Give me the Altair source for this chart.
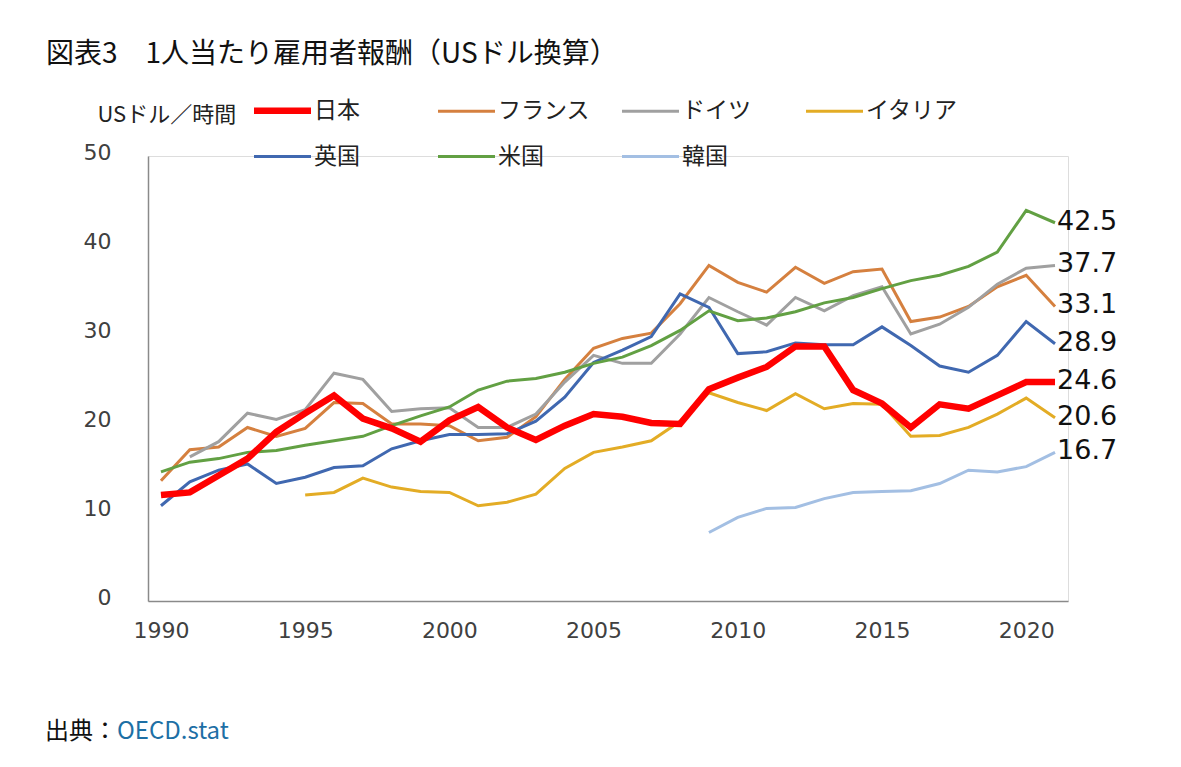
import altair as alt
import pandas as pd

# ---- data (USドル／時間) ----
countries = ["日本", "フランス", "ドイツ", "イタリア", "英国", "米国", "韓国"]
colors = ["#FF0000", "#D5803F", "#A0A0A0", "#E3AC25", "#4068B0", "#62A043", "#A3BFE3"]
start_years = [1990, 1990, 1991, 1995, 1990, 1990, 2009]

japan = [11.9, 12.2, 14.1, 16.0, 19.0, 21.1, 23.1, 20.5, 19.4, 17.9, 20.3, 21.8, 19.5, 18.1,
         19.7, 21.0, 20.7, 20.0, 19.9, 23.8, 25.1, 26.3, 28.6, 28.6, 23.7, 22.2, 19.5, 22.1,
         21.6, 23.1, 24.6, 24.6]
france = [13.5, 17.0, 17.3, 19.5, 18.5, 19.4, 22.3, 22.2, 19.9, 19.9, 19.7, 18.0, 18.4, 20.7,
          24.9, 28.4, 29.5, 30.1, 33.4, 37.7, 35.8, 34.7, 37.5, 35.7, 37.0, 37.3, 31.4, 31.9,
          33.1, 35.3, 36.6, 33.1]
germany = [16.2, 17.9, 21.1, 20.4, 21.5, 25.6, 24.9, 21.3, 21.6, 21.7, 19.5, 19.5, 21.0,
           24.6, 27.6, 26.7, 26.7, 30.0, 34.1, 32.5, 31.0, 34.1, 32.6, 34.3, 35.3, 30.0, 31.1,
           33.0, 35.6, 37.4, 37.7]
italy = [11.9, 12.2, 13.8, 12.8, 12.3, 12.2, 10.7, 11.1, 12.0, 14.9, 16.7, 17.3, 18.0, 20.2,
         23.4, 22.3, 21.4, 23.3, 21.6, 22.2, 22.1, 18.5, 18.6, 19.5, 21.0, 22.8, 20.6]
uk = [10.7, 13.4, 14.7, 15.4, 13.2, 13.9, 15.0, 15.2, 17.1, 18.0, 18.7, 18.7, 18.8, 20.2,
      22.9, 26.8, 28.2, 29.7, 34.5, 33.0, 27.8, 28.0, 29.0, 28.8, 28.8, 30.8, 28.7, 26.4,
      25.7, 27.6, 31.4, 28.9]
us = [14.5, 15.6, 16.0, 16.7, 16.9, 17.5, 18.0, 18.5, 19.7, 20.8, 21.8, 23.7, 24.7, 25.0,
      25.7, 26.7, 27.4, 28.7, 30.4, 32.6, 31.5, 31.8, 32.5, 33.5, 34.1, 35.1, 36.0, 36.6,
      37.6, 39.2, 43.9, 42.5]
korea = [7.7, 9.4, 10.4, 10.5, 11.5, 12.2, 12.3, 12.4, 13.2, 14.7, 14.5, 15.1, 16.7]

series = [japan, france, germany, italy, uk, us, korea]

x_ticks = [1990, 1995, 2000, 2005, 2010, 2015, 2020]
y_ticks = [0, 10, 20, 30, 40, 50]

title_text = "図表3\u30001人当たり雇用者報酬（USドル換算）"
source_label = "出典："
source_link = "OECD.stat"
unit_label = "USドル／時間"

# ---- build tables ----
rows = []
for name, start, vals in zip(countries, start_years, series):
    for i, v in enumerate(vals):
        rows.append({"country": name, "year": start + i, "value": v})
df = pd.DataFrame(rows)

end_df = pd.DataFrame({
    "country": countries,
    "year": [s + len(v) - 1 for s, v in zip(start_years, series)],
    "value": [v[-1] for v in series],
})
end_df["label"] = end_df["value"].map(lambda v: f"{v:.1f}")

JP = "Noto Sans CJK JP"
NUM = "DejaVu Sans"

W, H = 920, 445

x_scale = alt.Scale(domain=[1989.55, 2021.45], nice=False, zero=False)
y_scale = alt.Scale(domain=[0, 50], nice=False)

x_axis = alt.Axis(values=x_ticks, format="d", ticks=False, grid=False,
                  domainColor="#8a8a8a", domainWidth=1.5,
                  labelFont=NUM, labelFontSize=22, labelColor="#404040",
                  labelPadding=19, labelFlush=False, title=None)
y_axis = alt.Axis(values=y_ticks, ticks=False, grid=False,
                  domainColor="#8a8a8a", domainWidth=1.5,
                  labelFont=NUM, labelFontSize=22, labelColor="#404040",
                  labelPadding=37, labelOffset=-4,
                  title=unit_label, titleAngle=0, titleX=-51, titleY=-42,
                  titleAlign="left", titleBaseline="middle", titleFont=JP,
                  titleFontSize=22, titleFontWeight="normal", titleColor="#222222")

legend = alt.Legend(
    orient="none", legendX=123, legendY=-57, columns=4, gridAlign="all",
    direction="horizontal",
    symbolType="stroke", symbolSize=3249,
    symbolStrokeWidth=alt.ExprRef(expr="datum.value === '日本' ? 6.5 : 3"),
    labelFont=JP, labelFontSize=23, labelColor="#222222", labelOffset=20,
    columnPadding=26, rowPadding=21, title=None,
)

color = alt.Color("country:N", scale=alt.Scale(domain=countries, range=colors),
                  legend=legend, sort=countries)

base = alt.Chart(df).encode(
    x=alt.X("year:Q", scale=x_scale, axis=x_axis),
    y=alt.Y("value:Q", scale=y_scale, axis=y_axis),
    color=color,
    detail="country:N",
)

others = base.transform_filter("datum.country !== '日本'").mark_line(strokeWidth=3)
jp_line = base.transform_filter("datum.country === '日本'").mark_line(strokeWidth=6.5)

labels = alt.Chart(end_df).mark_text(
    align="left", baseline="middle", dx=2, dy=-1, font=NUM, fontSize=27, color="#111111"
).encode(
    x=alt.X("year:Q", scale=x_scale),
    y=alt.Y("value:Q", scale=y_scale),
    text="label:N",
)

title = alt.Chart(pd.DataFrame({"t": [title_text]})).mark_text(
    align="left", baseline="middle", font=JP, fontSize=28, color="#111111"
).encode(x=alt.value(-102), y=alt.value(-101), text="t:N")

src1 = alt.Chart(pd.DataFrame({"t": [source_label]})).mark_text(
    align="left", baseline="middle", font=JP, fontSize=24, color="#111111"
).encode(x=alt.value(-103), y=alt.value(576), text="t:N")

src2 = alt.Chart(pd.DataFrame({"t": [source_link]})).mark_text(
    align="left", baseline="middle", font=JP, fontSize=24, color="#1d6fa5"
).encode(x=alt.value(-31), y=alt.value(576), text="t:N")

chart = alt.layer(others, jp_line, labels, title, src1, src2).properties(
    width=W, height=H,
    autosize=alt.AutoSizeParams(type="none"),
    padding={"left": 140, "top": 148, "right": 105, "bottom": 150},
).configure_view(stroke=None).configure(background="white")

chart.save("out.html", embed_options={"renderer": "svg", "actions": False})
